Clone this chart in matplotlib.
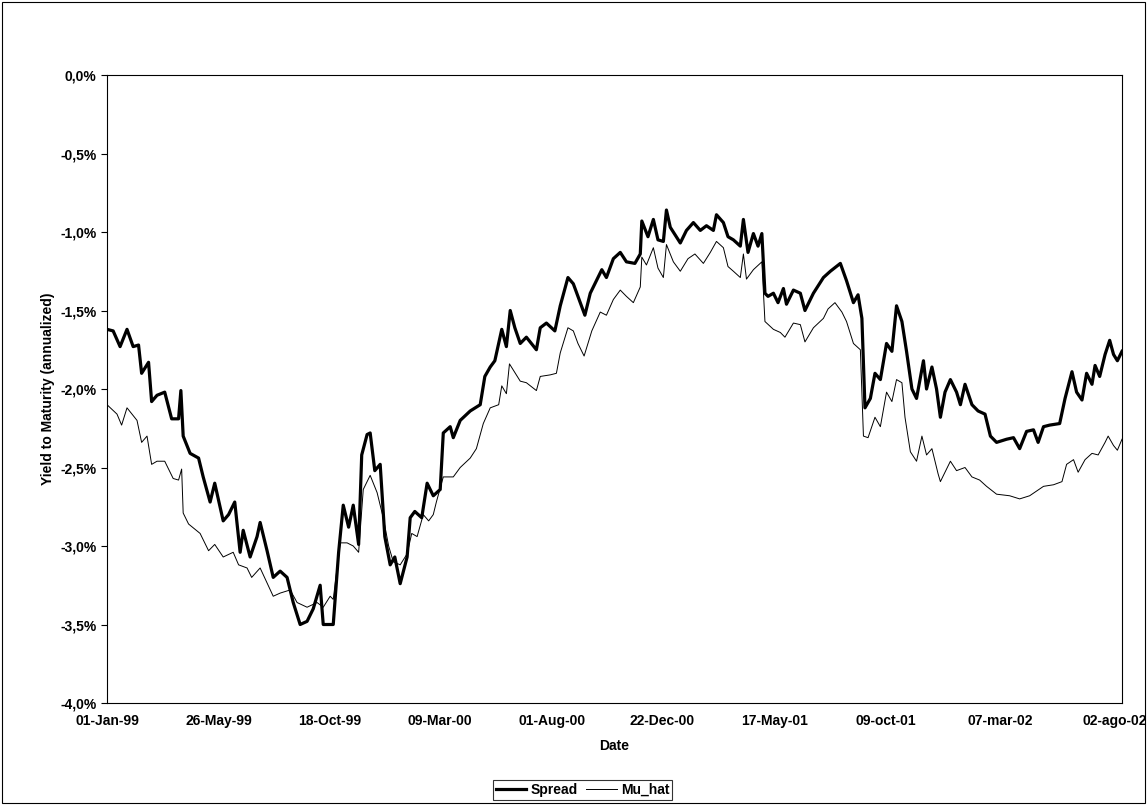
import numpy as np
import pandas as pd
import matplotlib
matplotlib.use('Agg')
import matplotlib.pyplot as plt
from matplotlib.patches import Rectangle

plt.rcParams['font.family'] = ['Liberation Sans', 'DejaVu Sans']
plt.rcParams['font.weight'] = 'bold'

start = pd.Timestamp('1999-01-01')

# day offsets from 01-Jan-99 and values (%)
spread_days = [0, 8, 17, 26, 34, 41, 45, 54, 58, 65, 75, 84, 93, 96, 99, 108, 119, 125, 134, 140,
               151, 158, 166, 173, 177, 186, 195, 199, 208, 216, 225, 234, 242, 251, 260, 268, 277, 281,
               294, 301, 307, 314, 320, 327, 331, 338, 342, 348, 355, 361, 368, 374, 381, 390, 394, 400,
               409, 416, 424, 433, 437, 446, 450, 459,
               472, 485, 491, 498, 504, 513, 519, 524, 530, 537, 545, 558, 563, 571, 582, 589, 599, 606,
               612, 621, 628, 636, 643, 649, 658, 667, 675, 686, 693, 695, 703, 710, 716, 723, 727, 732,
               745, 753, 762, 771, 779, 788, 792, 801, 807, 814, 823, 827, 833, 840, 846, 851, 855, 859,
               866, 872, 879, 883, 892, 901,
               907, 918, 931, 940, 953, 961, 970, 976, 981, 985, 992, 998, 1005, 1013, 1020, 1026, 1033,
               1039, 1046, 1052, 1061, 1065, 1072, 1078, 1083, 1089, 1096, 1104, 1109, 1115, 1124, 1132,
               1141, 1148, 1156, 1169, 1178, 1186, 1195, 1204, 1210, 1217, 1225, 1238, 1245, 1254, 1260,
               1267, 1273, 1280, 1284, 1290, 1297, 1303, 1308, 1313, 1319]
spread = [-1.62, -1.63, -1.73, -1.62, -1.73, -1.72, -1.90, -1.83, -2.08, -2.04, -2.02, -2.19, -2.19, -2.01,
          -2.30, -2.41, -2.44, -2.56, -2.72, -2.60, -2.84, -2.80, -2.72, -3.04, -2.90, -3.07, -2.94, -2.85,
          -3.03, -3.20, -3.16, -3.20, -3.36, -3.50, -3.48, -3.40, -3.25, -3.50, -3.50, -3.04, -2.74, -2.88,
          -2.74, -2.99, -2.42, -2.29, -2.28, -2.52, -2.48, -2.94, -3.12, -3.07, -3.24, -3.07, -2.82, -2.78,
          -2.82, -2.60, -2.68, -2.64, -2.28, -2.24, -2.31, -2.20,
          -2.14, -2.10, -1.92, -1.86, -1.82, -1.62, -1.73, -1.50, -1.61, -1.71, -1.67, -1.75, -1.61, -1.58,
          -1.63, -1.47, -1.29, -1.33, -1.41, -1.53, -1.39, -1.31, -1.24, -1.29, -1.17, -1.13, -1.19, -1.20,
          -1.14, -0.93, -1.03, -0.92, -1.05, -1.06, -0.86, -0.97, -1.07, -0.99, -0.94, -0.99, -0.96, -0.99,
          -0.89, -0.94, -1.03, -1.05, -1.09, -0.92, -1.13, -1.01, -1.09, -1.01, -1.39, -1.41, -1.39, -1.45,
          -1.36, -1.46, -1.37, -1.39,
          -1.50, -1.39, -1.29, -1.25, -1.20, -1.31, -1.45, -1.40, -1.55, -2.12, -2.06, -1.90, -1.94, -1.71,
          -1.76, -1.47, -1.57, -1.76, -2.00, -2.06, -1.82, -2.00, -1.86, -2.00, -2.18, -2.02, -1.94, -2.02,
          -2.10, -1.97, -2.10, -2.14, -2.16, -2.30, -2.34, -2.32, -2.31, -2.38, -2.27, -2.26, -2.34, -2.24,
          -2.23, -2.22, -2.06, -1.89, -2.02, -2.07, -1.90, -1.97, -1.85, -1.92, -1.78, -1.69, -1.78, -1.82,
          -1.76]

mu_days = [0, 13, 19, 26, 39, 45, 52, 58, 65, 75, 86, 93, 97, 99, 106, 121, 132, 140, 151, 164, 171, 182,
           188, 199, 216, 225, 238, 247, 260, 273, 281, 290, 294, 303, 312, 320, 327, 333, 342, 351, 359,
           366, 372, 381, 390, 396, 403, 411, 418, 424, 428, 437, 450, 459,
           472, 480, 489, 498, 509, 513, 519, 523, 537, 545, 558, 563, 576, 584, 589, 599, 606, 612, 620,
           630, 641, 649, 658, 667, 675, 684, 693, 695, 701, 710, 716, 723, 727, 736, 745, 755, 764, 775,
           784, 792, 801, 807, 814, 823, 827, 831, 840, 851, 855, 866, 875, 881, 892, 901,
           907, 918, 931, 937, 946, 955, 961, 970, 979, 983, 989, 998, 1005, 1013, 1020, 1026, 1033, 1037,
           1044, 1052, 1059, 1065, 1072, 1080, 1083, 1096, 1104, 1115, 1124, 1134, 1143, 1156, 1173, 1186,
           1199, 1217, 1230, 1241, 1247, 1256, 1262, 1271, 1280, 1288, 1297, 1301, 1308, 1313, 1319]
mu_hat = [-2.10, -2.16, -2.23, -2.12, -2.20, -2.34, -2.30, -2.48, -2.46, -2.46, -2.57, -2.58, -2.51, -2.79,
          -2.86, -2.92, -3.03, -2.99, -3.07, -3.04, -3.12, -3.14, -3.20, -3.14, -3.32, -3.30, -3.28, -3.36,
          -3.39, -3.36, -3.39, -3.32, -3.34, -2.98, -2.98, -3.00, -3.04, -2.64, -2.55, -2.66, -2.82, -3.00,
          -3.10, -3.12, -3.05, -2.92, -2.94, -2.80, -2.84, -2.80, -2.72, -2.56, -2.56, -2.50,
          -2.44, -2.38, -2.22, -2.12, -2.10, -1.98, -2.03, -1.84, -1.95, -1.96, -2.01, -1.92, -1.91, -1.90,
          -1.77, -1.61, -1.63, -1.71, -1.79, -1.63, -1.51, -1.53, -1.43, -1.37, -1.41, -1.45, -1.35, -1.16,
          -1.21, -1.10, -1.23, -1.29, -1.08, -1.19, -1.25, -1.17, -1.14, -1.20, -1.13, -1.06, -1.10, -1.22,
          -1.25, -1.29, -1.14, -1.30, -1.24, -1.19, -1.57, -1.62, -1.64, -1.67, -1.58, -1.59,
          -1.70, -1.61, -1.55, -1.49, -1.45, -1.51, -1.57, -1.71, -1.75, -2.30, -2.31, -2.18, -2.24, -2.02,
          -2.08, -1.94, -1.96, -2.18, -2.40, -2.46, -2.30, -2.42, -2.38, -2.54, -2.59, -2.46, -2.52, -2.50,
          -2.56, -2.58, -2.62, -2.67, -2.68, -2.70, -2.68, -2.62, -2.61, -2.59, -2.48, -2.45, -2.53, -2.45,
          -2.41, -2.42, -2.34, -2.30, -2.36, -2.39, -2.32]

tick_days = [0, 145, 290, 433, 578, 721, 867, 1012, 1161, 1309]
tick_labels = ['01-Jan-99', '26-May-99', '18-Oct-99', '09-Mar-00', '01-Aug-00', '22-Dec-00',
               '17-May-01', '09-oct-01', '07-mar-02', '02-ago-02']
y_ticks = [-4.0, -3.5, -3.0, -2.5, -2.0, -1.5, -1.0, -0.5, 0.0]

sp_x = start + pd.to_timedelta(spread_days, unit='D')
mu_x = start + pd.to_timedelta(mu_days, unit='D')
tk_x = start + pd.to_timedelta(tick_days, unit='D')

fig = plt.figure(figsize=(11.47, 8.05), dpi=100)
ax = fig.add_axes([107 / 1147, 1 - 703 / 805, (1122 - 107) / 1147, (703 - 75) / 805])

ax.plot(sp_x, np.array(spread) / 100, color='black', lw=2.3, label='Spread')
ax.plot(mu_x, np.array(mu_hat) / 100, color='black', lw=0.7, label='Mu_hat')

ax.set_xlim(start, start + pd.Timedelta(days=1319))
ax.set_ylim(-0.04, 0.0)
ax.set_yticks([v / 100 for v in y_ticks])
ax.set_yticklabels([('%.1f%%' % abs(v) if v == 0 else '%.1f%%' % v).replace('.', ',') for v in y_ticks])
ax.set_xticks(tk_x)
ax.set_xticklabels(tick_labels)
ax.tick_params(axis='x', length=0, pad=8, labelsize=10)
ax.tick_params(axis='y', direction='out', length=4, labelsize=10)
ax.set_xlabel('Date', fontsize=10, fontweight='bold', labelpad=8)
ax.set_ylabel('Yield to Maturity (annualized)', fontsize=10, fontweight='bold')
for s in ax.spines.values():
    s.set_linewidth(0.8)

leg = fig.legend(loc='center', bbox_to_anchor=(0.508, 1 - 790 / 805), ncol=2, frameon=True,
                 fancybox=False, edgecolor='black', fontsize=10, handlelength=2.2,
                 columnspacing=0.6, handletextpad=0.3, borderpad=0.2)
leg.get_frame().set_linewidth(0.8)

fig.patches.append(Rectangle((0.002, 0.002), 0.996, 0.996, transform=fig.transFigure,
                             fill=False, edgecolor='black', lw=0.8))

fig.savefig('out.png', dpi=100)
